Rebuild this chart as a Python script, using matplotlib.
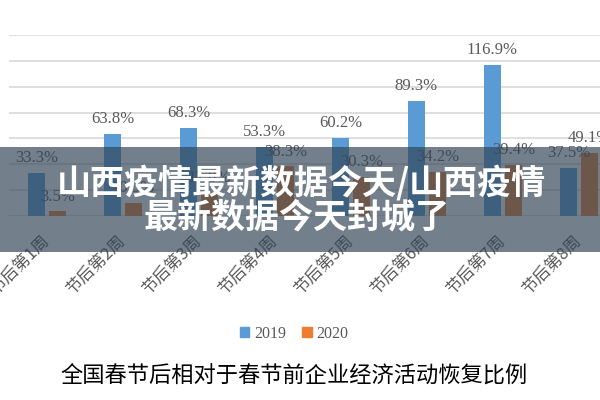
import matplotlib
matplotlib.use("Agg")
import matplotlib.pyplot as plt
from matplotlib.patches import Rectangle, Patch
import numpy as np

# data
weeks = ["节后第1周", "节后第2周", "节后第3周", "节后第4周",
         "节后第5周", "节后第6周", "节后第7周", "节后第8周"]
y2019 = [33.3, 63.8, 68.3, 53.3, 60.2, 89.3, 116.9, 37.5]
y2020 = [3.5, 10.3, 17.8, 38.3, 30.3, 34.2, 39.4, 49.1]
series_names = ["2019", "2020"]
title = "全国春节后相对于春节前企业经济活动恢复比例"
banner = ["山西疫情最新数据今天/山西疫情", "最新数据今天封城了"]

blue = "#5B9BD5"
orange = "#ED7D31"
grey = "#595959"
cjk = ["Noto Sans CJK SC", "DejaVu Sans"]
serif = ["Liberation Serif", "DejaVu Serif"]

fig = plt.figure(figsize=(6, 4), dpi=100)
fig.patch.set_facecolor("white")
# axes run a bit past the right edge, like the cropped original
ax = fig.add_axes([0.015, 0.46, 1.013, 0.4525])

x = np.arange(len(weeks))
w = 0.225
off = 0.138
ax.bar(x - off, y2019, w, color=blue, zorder=2)
ax.bar(x + off, y2020, w, color=orange, zorder=2)

for xi, v in zip(x - off, y2019):
    ax.annotate(f"{v}%", (xi, v), xytext=(0, 5), textcoords="offset points",
                ha="center", va="bottom", fontsize=12, color=grey, family=serif)
for xi, v in zip(x + off, y2020):
    ax.annotate(f"{v}%", (xi, v), xytext=(0, 5), textcoords="offset points",
                ha="center", va="bottom", fontsize=12, color=grey, family=serif)

ax.set_xlim(-0.5, len(weeks) - 0.5)
ax.set_ylim(0, 140)
ax.set_yticks(np.arange(0, 141, 20))
ax.yaxis.grid(True, color="#D9D9D9", linewidth=1.2, zorder=0)
ax.set_axisbelow(True)
ax.tick_params(axis="y", left=False, labelleft=False)
ax.tick_params(axis="x", length=0, pad=16)
for s in ax.spines.values():
    s.set_visible(False)
ax.set_xticks(x)
ax.set_xticklabels(weeks, rotation=45, ha="right", va="center",
                   rotation_mode="anchor", fontsize=12, color=grey, family=cjk)

handles = [Patch(color=blue), Patch(color=orange)]
fig.legend(handles, series_names, loc="center", bbox_to_anchor=(0.49, 0.165),
           ncol=2, frameon=False, handlelength=0.6, handleheight=0.6,
           handletextpad=0.3, columnspacing=1.0,
           prop={"family": serif, "size": 11.5}, labelcolor=grey)

fig.text(0.49, 0.06, title, ha="center", va="center", fontsize=16,
         color="black", family=cjk)

# translucent banner laid over the middle of the chart
fig.patches.append(Rectangle((0, 0.37), 1, 0.2625, transform=fig.transFigure,
                             facecolor="#314456", alpha=0.68, edgecolor="none",
                             zorder=5))
fig.text(0.502, 1 - 183 / 400, banner[0], ha="center", va="center",
         fontsize=24.5, fontweight="bold", color="white", family=cjk, zorder=6)
fig.text(0.495, 1 - 217 / 400, banner[1], ha="center", va="center",
         fontsize=24.5, fontweight="bold", color="white", family=cjk, zorder=6)

fig.savefig("out.png", dpi=100)
